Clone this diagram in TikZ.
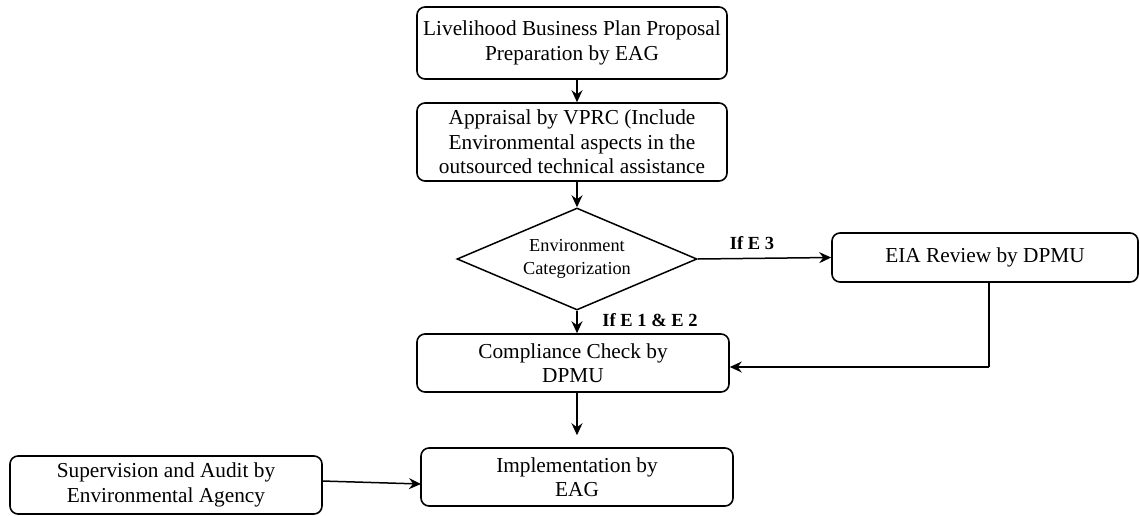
\documentclass[tikz,border=0pt]{standalone}
\usepackage{fontspec}
\setmainfont{Liberation Serif}
\usetikzlibrary{shapes.geometric,arrows.meta}
\begin{document}
\begin{tikzpicture}[x=1pt,y=-1pt,
  box/.style={draw,line width=1.6pt,rounded corners=8pt,align=center,inner sep=2pt,
    font=\fontsize{21.3}{24.5}\selectfont},
  dia/.style={draw,line width=1.5pt,diamond,inner sep=0pt,
    minimum width=240pt,minimum height=102pt},
  diatext/.style={align=center,font=\fontsize{18.3}{23}\selectfont},
  arr/.style={line width=1.5pt,-{Stealth[length=12pt,width=11pt,inset=4pt]}},
  ln/.style={line width=1.5pt},
  lab/.style={font=\bfseries\fontsize{18.5}{20}\selectfont}]
\useasboundingbox (0,0) rectangle (1140,515);
\node[box,minimum width=310pt,minimum height=72pt] (b1) at (572,43) {Livelihood Business Plan Proposal\\Preparation by EAG};
\node[box,minimum width=310pt,minimum height=78pt] (b2) at (572,142) {Appraisal by VPRC (Include\\Environmental aspects in the\\outsourced technical assistance};
\node[dia,label={[diatext]center:Environment\\Categorization}] (d) at (577,259) {};
\node[box,minimum width=306pt,minimum height=49pt] (eia) at (985,257.5) {EIA Review by DPMU};
\node[box,minimum width=312pt,minimum height=58pt] (cc) at (573,363) {Compliance Check by\\DPMU};
\node[box,minimum width=312pt,minimum height=58pt] (imp) at (577,477) {Implementation by\\EAG};
\node[box,minimum width=312pt,minimum height=58pt] (sup) at (166,485) {Supervision and Audit by\\Environmental Agency};
\coordinate (c1) at (989,367);
\coordinate (s1) at (322,481);
\coordinate (i1) at (421,484);
\draw[arr] (b1.south -| d.north) -- (b2.north -| d.north);
\draw[arr] (b2.south -| d.north) -- (d.north);
\draw[arr] (d.east) -- (eia.west);
\draw[arr] (d.south) -- (cc.north -| d.south);
\draw[ln] (eia.south -| c1) -- (c1);
\draw[arr] (c1) -- (c1 -| cc.east);
\draw[arr,shorten >=12pt] (cc.south -| d.south) -- (imp.north -| d.south);
\draw[arr] (s1) -- (i1);
\node[lab] (l1) at (752,243) {If E 3};
\node[lab] (l2) at (650,320) {If E 1 \& E 2};
\end{tikzpicture}
\end{document}
